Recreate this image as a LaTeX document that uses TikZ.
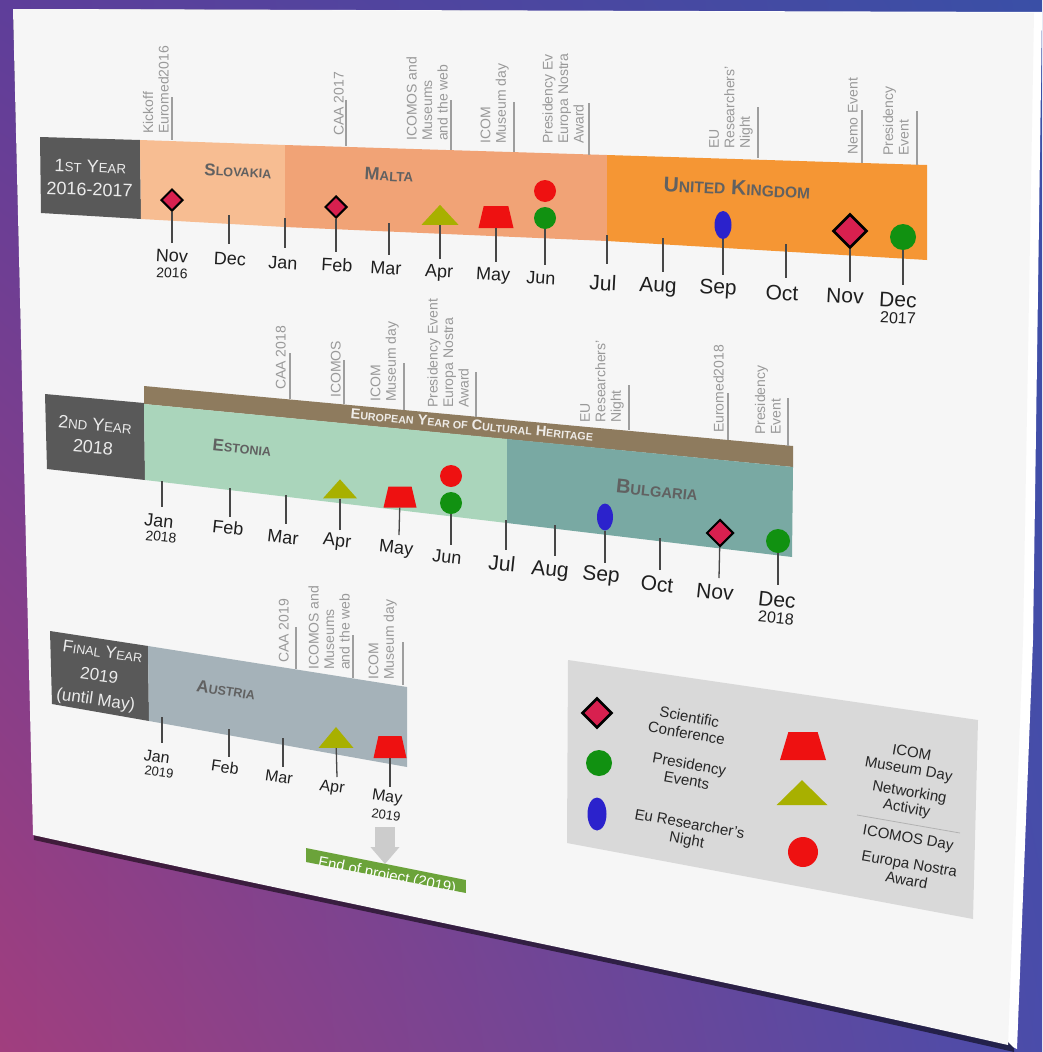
\documentclass[tikz,border=0pt]{standalone}
\usepackage{fontspec}
\setmainfont{Liberation Sans}
\usetikzlibrary{positioning,shapes,shadows,shadings,arrows,arrows.meta}

\definecolor{bgul}{HTML}{5E3E9A}
\definecolor{bgur}{HTML}{3A4FA6}
\definecolor{bgll}{HTML}{A13E7E}
\definecolor{bglr}{HTML}{4A4CAA}
\definecolor{cardcol}{HTML}{F6F6F6}
\definecolor{yeargray}{HTML}{595959}
\definecolor{skcol}{HTML}{F7BD92}
\definecolor{mtcol}{HTML}{F1A376}
\definecolor{ukcol}{HTML}{F59634}
\definecolor{heritcol}{HTML}{8E7B5E}
\definecolor{eecol}{HTML}{AAD5BB}
\definecolor{bgcol}{HTML}{79A9A3}
\definecolor{atcol}{HTML}{A5B2B9}
\definecolor{confred}{HTML}{D8204F}
\definecolor{presgreen}{HTML}{119111}
\definecolor{nostrared}{HTML}{EE1111}
\definecolor{resblue}{HTML}{2B22CC}
\definecolor{netolive}{HTML}{A8B000}
\definecolor{legendgray}{HTML}{D9D9D9}
\definecolor{endgreen}{HTML}{6BA33A}

\newcommand{\smcap}[1]{\scalebox{0.74}{#1}}

\tikzstyle{yrtext}=[text=black!8, align=center, font=\fontsize{18}{23}\selectfont]
\tikzstyle{country}=[text=black!62, font=\bfseries\fontsize{17}{17}\selectfont]
\tikzstyle{herit}=[text=white!85!heritcol, font=\bfseries\fontsize{14.5}{14.5}\selectfont]
\tikzstyle{month}=[text=black!88, font=\fontsize{18}{18}\selectfont, inner sep=0pt]
\tikzstyle{monthbig}=[month, font=\fontsize{21}{21}\selectfont]
\tikzstyle{yr}=[text=black!88, font=\fontsize{14}{14}\selectfont, inner sep=0pt]
\tikzstyle{tick}=[-, draw=black!72, line width=1.3pt]
\tikzstyle{ann}=[rotate=90, anchor=south west, align=left, inner sep=0pt, text=black!40, font=\fontsize{14}{15.5}\selectfont]
\tikzstyle{annline}=[-, draw=black!38, line width=1.2pt]
\tikzstyle{conf}=[diamond, draw=black, line width=2pt, fill=confred, inner sep=0pt, minimum size=22pt]
\tikzstyle{pres}=[circle, fill=presgreen, inner sep=0pt, minimum size=22pt]
\tikzstyle{nostra}=[circle, fill=nostrared, inner sep=0pt, minimum size=22pt]
\tikzstyle{resnight}=[ellipse, fill=resblue, inner sep=0pt, minimum width=17pt, minimum height=28pt]
\tikzstyle{museum}=[trapezium, trapezium stretches=true, trapezium left angle=78, trapezium right angle=78, fill=nostrared, inner sep=1pt, minimum width=35pt, minimum height=22pt]
\tikzstyle{network}=[isosceles triangle, isosceles triangle stretches=true, shape border rotate=90, fill=netolive, inner sep=1pt, minimum width=37pt, minimum height=20pt]
\tikzstyle{legendtext}=[align=center, rotate=-10, text=black!85, font=\fontsize{15}{16.5}\selectfont]
\tikzstyle{endarrow}=[-{Triangle[width=28pt,length=17pt]}, line width=20pt, draw=black!20]

\begin{document}
\begin{tikzpicture}[x=1pt,y=-1pt]
\useasboundingbox (0,0) rectangle (1042,1052);

% background and card
\shade[upper left=bgul, upper right=bgur, lower left=bgll, lower right=bglr] (0,0) rectangle (1042,1052);
\fill[black, opacity=0.55] (13,9) -- (1040,13) -- (1029,640) -- (1014,1052) .. controls (701,980) and (351,910) .. (34,840) -- cycle;
\fill[white] (13,9) -- (1042,12) -- (1033,640) -- (1017,1049) -- (1013,1047) -- cycle;
\fill[cardcol] (13,9) -- (1034,13) -- (1023,640) -- (1008,1045) .. controls (700,975) and (350,905) .. (33,835) -- cycle;

% first year
\fill[yeargray] (40,137) -- (140,140) -- (141,219) -- (41,213) -- cycle;
\fill[skcol] (140,140) -- (285,145) -- (285,227) -- (141,219) -- cycle;
\fill[mtcol] (285,145) -- (607,155) -- (607,241) -- (285,227) -- cycle;
\fill[ukcol] (607,155) -- (927,165) -- (927,260) -- (607,241) -- cycle;
\node[yrtext, rotate=-2] (y1) at (90,178) {1\smcap{ST} Y\smcap{EAR}\\2016-2017};
\node[country, rotate=-3] (slov) at (238,171) {S\smcap{LOVAKIA}};
\node[country, rotate=-3, font=\bfseries\fontsize{18}{18}\selectfont] (malt) at (389,175) {M\smcap{ALTA}};
\node[country, rotate=-3, font=\bfseries\fontsize{21}{21}\selectfont] (ukin) at (737,188) {U\smcap{NITED} K\smcap{INGDOM}};

\node[conf] (m1nov) at (172,200) {};
\node[conf] (m1feb) at (336,207) {};
\node[network] (m1apr) at (440,217) {};
\node[museum] (m1may) at (496,217) {};
\node[nostra] (m1junr) at (545,191) {};
\node[pres] (m1jun) at (545,218) {};
\node[resnight] (m1sep) at (723,225) {};
\node[conf, minimum size=34pt, line width=2.6pt] (m1nov2) at (850,231) {};
\node[pres, minimum size=26pt] (m1dec2) at (903,237) {};

\coordinate (t1dec) at (229,215); \coordinate (b1dec) at (229,244);
\coordinate (t1jan) at (285,218); \coordinate (b1jan) at (285,248);
\coordinate (t1mar) at (389,223); \coordinate (b1mar) at (389,255);
\coordinate (t1jul) at (607,235); \coordinate (b1jul) at (607,264);
\coordinate (t1aug) at (663,238); \coordinate (b1aug) at (663,272);
\coordinate (t1oct) at (786,244); \coordinate (b1oct) at (786,278);
\coordinate (b1nov) at (172,243); \coordinate (b1feb) at (336,252);
\coordinate (b1apr) at (440,259); \coordinate (b1may) at (496,262);
\coordinate (b1jun) at (545,265); \coordinate (b1sep) at (723,275);
\coordinate (b1nov2) at (850,282); \coordinate (b1dec2) at (903,285);

\draw[tick] (m1nov) -- (b1nov);
\draw[tick] (t1dec) -- (b1dec);
\draw[tick] (t1jan) -- (b1jan);
\draw[tick] (m1feb) -- (b1feb);
\draw[tick] (t1mar) -- (b1mar);
\draw[tick] (m1apr) -- (b1apr);
\draw[tick] (m1may) -- (b1may);
\draw[tick] (m1jun) -- (b1jun);
\draw[tick] (t1jul) -- (b1jul);
\draw[tick] (t1aug) -- (b1aug);
\draw[tick] (m1sep) -- (b1sep);
\draw[tick] (t1oct) -- (b1oct);
\draw[tick] (m1nov2) -- (b1nov2);
\draw[tick] (m1dec2) -- (b1dec2);

\node[month, rotate=-3] (l1nov) at (172,256) {Nov};
\node[yr, rotate=-3] (y1nov) at (172,273) {2016};
\node[month, rotate=-3] (l1dec) at (230,259) {Dec};
\node[month, rotate=-3] (l1jan) at (283,263) {Jan};
\node[month, rotate=-3] (l1feb) at (337,265) {Feb};
\node[month, rotate=-3] (l1mar) at (386,268) {Mar};
\node[month, rotate=-3] (l1apr) at (439,273) {Apr};
\node[month, rotate=-3] (l1may) at (493,276) {May};
\node[month, rotate=-3] (l1jun) at (541,278) {Jun};
\node[monthbig, rotate=-3] (l1jul) at (603,283) {Jul};
\node[monthbig, rotate=-3] (l1aug) at (658,287) {Aug};
\node[monthbig, rotate=-3] (l1sep) at (718,289) {Sep};
\node[monthbig, rotate=-3] (l1oct) at (782,293) {Oct};
\node[monthbig, rotate=-3] (l1nov2) at (845,296) {Nov};
\node[monthbig, rotate=-3] (l1dec2) at (898,300) {Dec};
\node[yr, rotate=-3, font=\fontsize{16}{16}\selectfont] (y1dec) at (898,318) {2017};

\node[ann] (a1kick) at (169,134) {Kickoff\\Euromed2016};
\node[ann] (a1caa) at (344,136) {CAA 2017};
\node[ann] (a1icomos) at (448,141) {ICOMOS and\\Museums\\and the web};
\node[ann] (a1icom) at (509,144) {ICOM\\Museum day};
\node[ann] (a1pres) at (584,144) {Presidency Ev\\Europa Nostra\\Award};
\node[ann] (a1eu) at (753,149) {EU\\Researchers'\\Night};
\node[ann] (a1nemo) at (858,155) {Nemo Event};
\node[ann] (a1presev) at (909,156) {Presidency\\Event};

\coordinate (k1a) at (172,97); \coordinate (k1b) at (172,140);
\coordinate (k2a) at (346,100); \coordinate (k2b) at (346,146);
\coordinate (k3a) at (451,100); \coordinate (k3b) at (451,150);
\coordinate (k4a) at (514,102); \coordinate (k4b) at (514,152);
\coordinate (k5a) at (589,103); \coordinate (k5b) at (589,155);
\coordinate (k6a) at (758,107); \coordinate (k6b) at (758,158);
\coordinate (k7a) at (862,110); \coordinate (k7b) at (862,163);
\coordinate (k8a) at (917,111); \coordinate (k8b) at (917,165);
\draw[annline] (k1a) -- (k1b);
\draw[annline] (k2a) -- (k2b);
\draw[annline] (k3a) -- (k3b);
\draw[annline] (k4a) -- (k4b);
\draw[annline] (k5a) -- (k5b);
\draw[annline] (k6a) -- (k6b);
\draw[annline] (k7a) -- (k7b);
\draw[annline] (k8a) -- (k8b);

% second year
\fill[yeargray] (45,394) -- (144,403) -- (145,480) -- (47,469) -- cycle;
\fill[heritcol] (144,386) -- (793,446) -- (793,467) -- (144,404) -- cycle;
\fill[eecol] (144,404) -- (507,439) -- (507,523) -- (145,480) -- cycle;
\fill[bgcol] (507,439) -- (793,467) -- (792,557) -- (507,523) -- cycle;
\node[yrtext, rotate=-5] (y2) at (94,436) {2\smcap{ND} Y\smcap{EAR}\\2018};
\node[herit, rotate=-5.3] (eych) at (472,425) {E\smcap{UROPEAN} Y\smcap{EAR OF} C\smcap{ULTURAL} H\smcap{ERITAGE}};
\node[country, rotate=-6] (esto) at (242,448) {E\smcap{STONIA}};
\node[country, rotate=-6, font=\bfseries\fontsize{20}{20}\selectfont] (bulg) at (657,490) {B\smcap{ULGARIA}};

\node[network, minimum width=34pt, minimum height=19pt] (m2apr) at (340,491) {};
\node[museum, minimum width=33pt, minimum height=21pt] (m2may) at (400,497) {};
\node[nostra] (m2junr) at (451,476) {};
\node[pres] (m2jun) at (451,503) {};
\node[resnight, minimum width=16pt, minimum height=27pt] (m2sep) at (605,517) {};
\node[conf, minimum size=27pt] (m2nov) at (720,533) {};
\node[pres, minimum size=24pt] (m2dec) at (778,541) {};

\coordinate (t2jan) at (162,481); \coordinate (b2jan) at (162,507);
\coordinate (t2feb) at (230,488); \coordinate (b2feb) at (230,517);
\coordinate (t2mar) at (286,495); \coordinate (b2mar) at (286,524);
\coordinate (t2jul) at (506,520); \coordinate (b2jul) at (506,550);
\coordinate (t2aug) at (555,525); \coordinate (b2aug) at (555,556);
\coordinate (t2oct) at (660,538); \coordinate (b2oct) at (660,570);
\coordinate (b2apr) at (340,530); \coordinate (b2may) at (399,535);
\coordinate (b2jun) at (451,545); \coordinate (b2sep) at (605,563);
\coordinate (b2nov) at (719,578); \coordinate (b2dec) at (778,585);

\draw[tick] (t2jan) -- (b2jan);
\draw[tick] (t2feb) -- (b2feb);
\draw[tick] (t2mar) -- (b2mar);
\draw[tick] (m2apr) -- (b2apr);
\draw[tick] (m2may) -- (b2may);
\draw[tick] (m2jun) -- (b2jun);
\draw[tick] (t2jul) -- (b2jul);
\draw[tick] (t2aug) -- (b2aug);
\draw[tick] (m2sep) -- (b2sep);
\draw[tick] (t2oct) -- (b2oct);
\draw[tick] (m2nov) -- (b2nov);
\draw[tick] (m2dec) -- (b2dec);

\node[month, rotate=-6] (l2jan) at (159,521) {Jan};
\node[yr, rotate=-6] (y2jan) at (161,537) {2018};
\node[month, rotate=-6] (l2feb) at (228,528) {Feb};
\node[month, rotate=-6] (l2mar) at (283,537) {Mar};
\node[month, rotate=-6] (l2apr) at (337,542) {Apr};
\node[month, rotate=-6] (l2may) at (396,549) {May};
\node[month, rotate=-6] (l2jun) at (447,557) {Jun};
\node[monthbig, rotate=-6] (l2jul) at (502,563) {Jul};
\node[monthbig, rotate=-6] (l2aug) at (550,571) {Aug};
\node[monthbig, rotate=-6] (l2sep) at (601,576) {Sep};
\node[monthbig, rotate=-6] (l2oct) at (657,584) {Oct};
\node[monthbig, rotate=-6] (l2nov) at (715,592) {Nov};
\node[monthbig, rotate=-6] (l2dec) at (777,600) {Dec};
\node[yr, rotate=-6, font=\fontsize{16}{16}\selectfont] (y2dec) at (776,618) {2018};

\node[ann] (a2caa) at (286,390) {CAA 2018};
\node[ann] (a2icomos) at (341,398) {ICOMOS};
\node[ann] (a2icom) at (399,402) {ICOM\\Museum day};
\node[ann] (a2pres) at (469,408) {Presidency Event\\Europa Nostra\\Award};
\node[ann] (a2eu) at (624,423) {EU\\Researchers'\\Night};
\node[ann] (a2euromed) at (724,433) {Euromed2018};
\node[ann] (a2presev) at (781,435) {Presidency\\Event};

\coordinate (q1a) at (290,353); \coordinate (q1b) at (290,399);
\coordinate (q2a) at (344,360); \coordinate (q2b) at (344,404);
\coordinate (q3a) at (404,363); \coordinate (q3b) at (404,410);
\coordinate (q4a) at (476,372); \coordinate (q4b) at (476,417);
\coordinate (q5a) at (629,385); \coordinate (q5b) at (629,430);
\coordinate (q6a) at (728,393); \coordinate (q6b) at (728,440);
\coordinate (q7a) at (788,398); \coordinate (q7b) at (788,446);
\draw[annline] (q1a) -- (q1b);
\draw[annline] (q2a) -- (q2b);
\draw[annline] (q3a) -- (q3b);
\draw[annline] (q4a) -- (q4b);
\draw[annline] (q5a) -- (q5b);
\draw[annline] (q6a) -- (q6b);
\draw[annline] (q7a) -- (q7b);

% final year
\fill[yeargray] (50,631) -- (148,646) -- (149,721) -- (52,704) -- cycle;
\fill[atcol] (148,646) -- (407,687) -- (407,767) -- (149,721) -- cycle;
\node[yrtext, rotate=-8, font=\fontsize{17}{24}\selectfont] (y3) at (99,677) {F\smcap{INAL} Y\smcap{EAR}\\2019\\(until May)};
\node[country, rotate=-9] (aust) at (226,690) {A\smcap{USTRIA}};

\node[network, minimum width=35pt, minimum height=21pt] (m3apr) at (336,740) {};
\node[museum, minimum width=33pt, minimum height=22pt] (m3may) at (390,747) {};

\coordinate (t3jan) at (162,717); \coordinate (b3jan) at (162,743);
\coordinate (t3feb) at (229,729); \coordinate (b3feb) at (229,757);
\coordinate (t3mar) at (283,738); \coordinate (b3mar) at (283,767);
\coordinate (b3apr) at (337,777); \coordinate (b3may) at (390,787);
\draw[tick] (t3jan) -- (b3jan);
\draw[tick] (t3feb) -- (b3feb);
\draw[tick] (t3mar) -- (b3mar);
\draw[tick] (m3apr) -- (b3apr);
\draw[tick] (m3may) -- (b3may);

\node[month, rotate=-8, font=\fontsize{16}{16}\selectfont] (l3jan) at (157,757) {Jan};
\node[yr, rotate=-8, font=\fontsize{13}{13}\selectfont] (y3jan) at (159,772) {2019};
\node[month, rotate=-8, font=\fontsize{16}{16}\selectfont] (l3feb) at (225,767) {Feb};
\node[month, rotate=-8, font=\fontsize{16}{16}\selectfont] (l3mar) at (279,777) {Mar};
\node[month, rotate=-8, font=\fontsize{16}{16}\selectfont] (l3apr) at (332,788) {Apr};
\node[month, rotate=-8, font=\fontsize{16}{16}\selectfont] (l3may) at (387,798) {May};
\node[yr, rotate=-8, font=\fontsize{13}{13}\selectfont] (y3may) at (386,815) {2019};

\node[ann] (a3caa) at (289,663) {CAA 2019};
\node[ann] (a3icomos) at (350,670) {ICOMOS and\\Museums\\and the web};
\node[ann] (a3icom) at (397,680) {ICOM\\Museum day};
\coordinate (r1a) at (296,627); \coordinate (r1b) at (296,669);
\coordinate (r2a) at (353,635); \coordinate (r2b) at (353,678);
\coordinate (r3a) at (403,642); \coordinate (r3b) at (403,685);
\draw[annline] (r1a) -- (r1b);
\draw[annline] (r2a) -- (r2b);
\draw[annline] (r3a) -- (r3b);

% end of project
\coordinate (arrtop) at (385,827); \coordinate (arrtip) at (385,864);
\draw[endarrow] (arrtop) -- (arrtip);
\begin{scope}
\clip (306,848) -- (466,880) -- (466,893) -- (306,862) -- cycle;
\fill[endgreen] (306,848) -- (466,880) -- (466,893) -- (306,862) -- cycle;
\node[rotate=-11, text=white, font=\fontsize{15}{15}\selectfont] (endp) at (387,876) {End of project (2019)};
\end{scope}

% legend
\fill[legendgray] (568,660) -- (978,720) -- (973,919) -- (567,843) -- cycle;
\node[conf, minimum size=30pt, line width=2.6pt] (lconf) at (597,713) {};
\node[pres, minimum size=26pt] (lpres) at (599,763) {};
\node[resnight, minimum width=19pt, minimum height=33pt] (lres) at (597,814) {};
\node[museum, minimum width=46pt, minimum height=28pt, trapezium left angle=74, trapezium right angle=74] (lmus) at (803,746) {};
\node[network, minimum width=51pt, minimum height=25pt] (lnet) at (802,795) {};
\node[nostra, minimum size=30pt] (lnos) at (803,852) {};
\node[legendtext] (tconf) at (688,725) {Scientific\\Conference};
\node[legendtext] (tpres) at (688,772) {Presidency\\Events};
\node[legendtext] (tres) at (688,833) {Eu Researcher's\\Night};
\node[legendtext] (tmus) at (910,762) {ICOM\\Museum Day};
\node[legendtext] (tnet) at (908,801) {Networking\\Activity};
\node[legendtext] (ticomos) at (908,839) {ICOMOS Day};
\node[legendtext] (tnos) at (908,872) {Europa Nostra\\Award};
\coordinate (sepa) at (857,815); \coordinate (sepb) at (960,833);
\draw[-, black!30, line width=0.8pt] (sepa) -- (sepb);
\end{tikzpicture}
\end{document}
